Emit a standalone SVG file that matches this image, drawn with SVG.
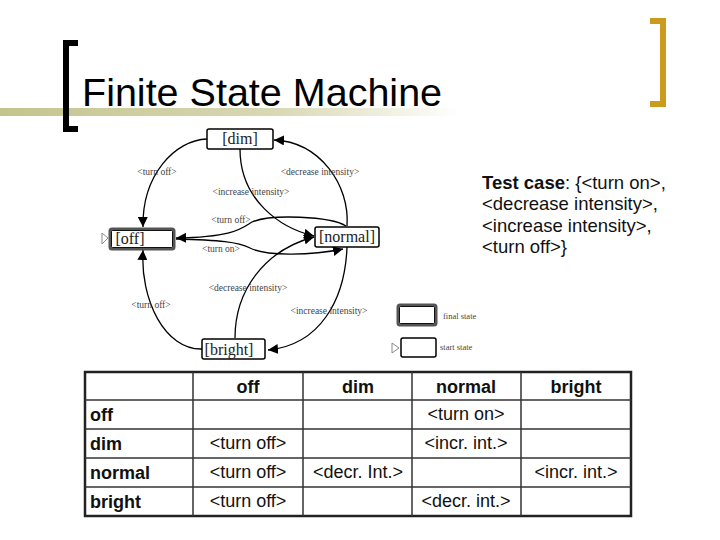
<svg xmlns="http://www.w3.org/2000/svg" width="720" height="540" viewBox="0 0 720 540">
<defs>
<linearGradient id="band" x1="0" y1="0" x2="1" y2="0">
<stop offset="0" stop-color="#c4c48e"/>
<stop offset="0.6" stop-color="#d8d8b4"/>
<stop offset="1" stop-color="#ffffff"/>
</linearGradient>
<marker id="ah" viewBox="0 0 10 10" refX="10" refY="5" markerWidth="10" markerHeight="10" markerUnits="userSpaceOnUse" orient="auto">
<path d="M0,0 L10,5 L0,10 z" fill="#000"/>
</marker>
<style>
.node rect{fill:#fff;stroke:#000;stroke-width:1.5}
.nl{font-family:"Liberation Serif",serif;font-size:16px;fill:#222;text-anchor:middle}
.el{font-family:"Liberation Serif",serif;font-size:9.5px;fill:#444;text-anchor:middle}
.edge{fill:none;stroke:#000;stroke-width:1.3;marker-end:url(#ah)}
.tb{font-family:"Liberation Sans",Arial,sans-serif;font-size:18px;fill:#111}
.b{font-weight:bold}
.c{text-anchor:middle}
.grid line{stroke:#333;stroke-width:1.5}
</style>
</defs>
<rect width="720" height="540" fill="#fff"/>

<g id="title">
<rect x="0" y="108" width="460" height="8" fill="url(#band)"/>
<path d="M78,43 H66 V129 H78" fill="none" stroke="#000" stroke-width="6"/>
<path d="M650,21 H663 V104 H650" fill="none" stroke="#cc9a1c" stroke-width="6"/>
<text x="82" y="106" font-family="Liberation Sans,Arial,sans-serif" font-size="39.5" fill="#000">Finite State Machine</text>
</g>

<g id="connectors">
<path class="edge" d="M207,139 C175,140 142,175 143,227"/>
<path class="edge" d="M347,226 C350,185 320,142 274,140"/>
<path class="edge" d="M240,149 C240,200 280,228 314,236"/>
<path class="edge" d="M346,226 C330,216 270,214 252,222 C242,228 235,237 176,238"/>
<path class="edge" d="M176,239 C220,240 238,242 250,248 C265,256 310,256 343,249"/>
<path class="edge" d="M235,338 C235,290 265,250 314,237"/>
<path class="edge" d="M347,247 C345,300 320,345 268,350"/>
<path class="edge" d="M202,349 C165,350 140,300 143,250"/>
<text class="el" x="157" y="175">&lt;turn off&gt;</text>
<text class="el" x="320" y="175">&lt;decrease intensity&gt;</text>
<text class="el" x="251" y="195">&lt;increase intensity&gt;</text>
<text class="el" x="231" y="223">&lt;turn off&gt;</text>
<text class="el" x="221" y="252">&lt;turn on&gt;</text>
<text class="el" x="248" y="291">&lt;decrease intensity&gt;</text>
<text class="el" x="329" y="314">&lt;increase intensity&gt;</text>
<text class="el" x="151" y="308">&lt;turn off&gt;</text>
</g>

<g id="dim" class="node">
<rect x="207" y="129" width="66" height="20" rx="2"/>
<text class="nl" x="240" y="144">[dim]</text>
</g>
<g id="off" class="node">
<path d="M102,233 L108,238 L102,244 z" fill="#fff" stroke="#888" stroke-width="1"/>
<rect x="110" y="229" width="64" height="20" rx="2" style="stroke:#555;stroke-width:3"/>
<rect x="111.5" y="230.5" width="61" height="17" rx="1" style="fill:none;stroke:#111;stroke-width:1"/>
<text class="nl" x="130" y="244">[off]</text>
</g>
<g id="normal" class="node">
<rect x="315" y="227" width="64" height="20" rx="2"/>
<text class="nl" x="347" y="242">[normal]</text>
</g>
<g id="bright" class="node">
<rect x="202" y="339" width="63" height="20" rx="2"/>
<text class="nl" x="229" y="355">[bright]</text>
</g>

<g id="legend">
<rect x="398" y="305" width="38" height="20" rx="2" fill="#fff" stroke="#555" stroke-width="3"/>
<rect x="399.5" y="306.5" width="35" height="17" rx="1" fill="none" stroke="#111" stroke-width="1"/>
<text x="443" y="319" font-family="Liberation Serif,serif" font-size="8.5" fill="#444">final state</text>
<path d="M392,343 L399,348 L392,353 z" fill="#fff" stroke="#888" stroke-width="1"/>
<rect x="401" y="338" width="35" height="19" rx="2" fill="#fff" stroke="#000" stroke-width="1.5"/>
<text x="440" y="350" font-family="Liberation Serif,serif" font-size="8.5" fill="#444">start state</text>
</g>

<g id="testcase">
<text class="tb" x="482" y="189" style="font-size:18.5px"><tspan class="b">Test case</tspan>: {&lt;turn on&gt;,</text>
<text class="tb" x="482" y="210" style="font-size:18.5px">&lt;decrease intensity&gt;,</text>
<text class="tb" x="482" y="232" style="font-size:18.5px">&lt;increase intensity&gt;,</text>
<text class="tb" x="482" y="253" style="font-size:18.5px">&lt;turn off&gt;}</text>
</g>

<g id="table">
<rect x="85" y="372" width="546" height="144" fill="#fff" stroke="#222" stroke-width="2.5"/>
<g class="grid">
<line x1="193" y1="372" x2="193" y2="516"/>
<line x1="303" y1="372" x2="303" y2="516"/>
<line x1="412" y1="372" x2="412" y2="516"/>
<line x1="521" y1="372" x2="521" y2="516"/>
<line x1="85" y1="400" x2="631" y2="400"/>
<line x1="85" y1="429" x2="631" y2="429"/>
<line x1="85" y1="458" x2="631" y2="458"/>
<line x1="85" y1="487" x2="631" y2="487"/>
</g>
<text class="tb b c" x="248" y="393">off</text>
<text class="tb b c" x="358" y="393">dim</text>
<text class="tb b c" x="466" y="393">normal</text>
<text class="tb b c" x="576" y="393">bright</text>
<text class="tb b" x="90" y="421">off</text>
<text class="tb b" x="90" y="450">dim</text>
<text class="tb b" x="90" y="479">normal</text>
<text class="tb b" x="90" y="508">bright</text>
<text class="tb c" x="466" y="420">&lt;turn on&gt;</text>
<text class="tb c" x="248" y="449">&lt;turn off&gt;</text>
<text class="tb c" x="466" y="449">&lt;incr. int.&gt;</text>
<text class="tb c" x="248" y="478">&lt;turn off&gt;</text>
<text class="tb c" x="358" y="478">&lt;decr. Int.&gt;</text>
<text class="tb c" x="576" y="478">&lt;incr. int.&gt;</text>
<text class="tb c" x="248" y="507">&lt;turn off&gt;</text>
<text class="tb c" x="466" y="507">&lt;decr. int.&gt;</text>
</g>
</svg>
